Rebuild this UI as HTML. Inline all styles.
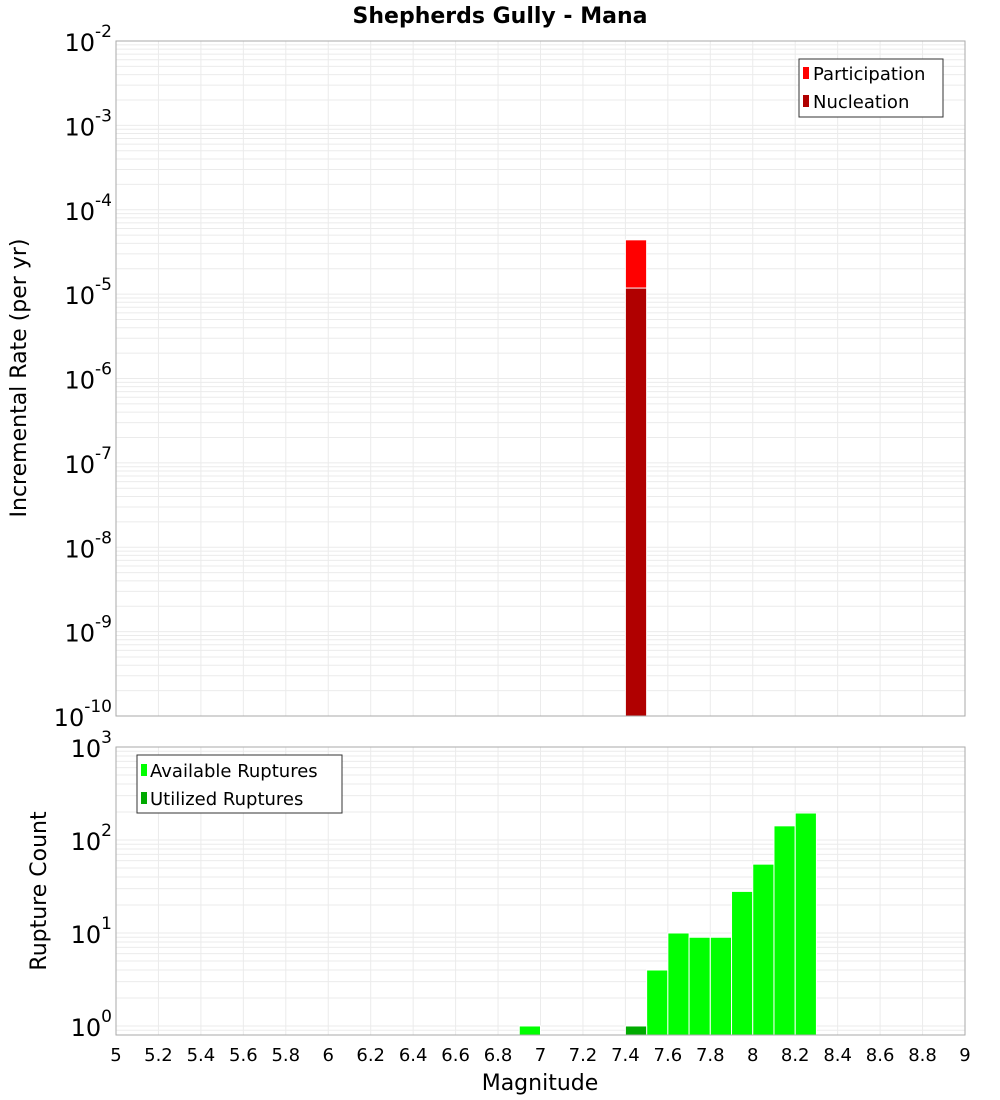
<!DOCTYPE html>
<html><head><meta charset="utf-8"><style>
body{margin:0;background:#fff;}
svg{display:block;font-family:"DejaVu Sans","Liberation Sans",sans-serif;}
</style></head><body>
<svg id="c" width="1000" height="1100" xmlns="http://www.w3.org/2000/svg">
<text x="500" y="23" text-anchor="middle" font-size="22" font-weight="bold">Shepherds Gully - Mana</text>
<g id="top"></g>
<g id="bot"></g>
<text transform="translate(26,378) rotate(-90)" text-anchor="middle" font-size="22">Incremental Rate (per yr)</text>
<text transform="translate(46,891) rotate(-90)" text-anchor="middle" font-size="22">Rupture Count</text>
<text x="540" y="1090" text-anchor="middle" font-size="22">Magnitude</text>
</svg>
<script>
const xTicks=[5,5.2,5.4,5.6,5.8,6,6.2,6.4,6.6,6.8,7,7.2,7.4,7.6,7.8,8,8.2,8.4,8.6,8.8,9];
const rateBins=[7.45];
const participation=[4.4e-5];
const nucleation=[1.18e-5];
const countBins=[6.95,7.45,7.55,7.65,7.75,7.85,7.95,8.05,8.15,8.25];
const available=[1,1,4,10,9,9,28,55,142,195];
const utilBins=[7.45];
const utilized=[1];
const topExp=[-10,-9,-8,-7,-6,-5,-4,-3,-2];
const botExp=[0,1,2,3];

const NS='http://www.w3.org/2000/svg';
const L=116,R=965;
const xs=m=>L+(m-5)/4*(R-L);
function mk(p,t,a){const e=document.createElementNS(NS,t);for(const k in a)e.setAttribute(k,a[k]);p.appendChild(e);return e;}
function panel(g,y0,y1,lmin,lmax){
  const ys=v=>y1-(Math.log10(v)-lmin)/(lmax-lmin)*(y1-y0);
  for(let d=Math.floor(lmin);d<lmax;d++)for(let k=1;k<10;k++){const v=k*Math.pow(10,d);const y=ys(v);if(y<y0-0.5||y>y1+0.5)continue;
    const l=mk(g,'line',{x1:L,x2:R,y1:y,y2:y,stroke:'#ebebeb','stroke-width':1});
    
    }
  xTicks.forEach(t=>{const x=xs(t);const l=mk(g,'line',{x1:x,x2:x,y1:y0,y2:y1,stroke:'#ebebeb','stroke-width':1});
    
    });
  return ys;
}
function bar(g,c,v,ys,y1,fill,name){
  const x0=xs(c-0.05),x1=xs(c+0.05),y=ys(v);
  const r=mk(g,'rect',{x:x0,y:y,width:x1-x0,height:y1-y,fill:fill,stroke:'#fff','stroke-width':1});
  
  
}
function ylabels(g,exps,ys){
  exps.forEach(e=>{const y=ys(Math.pow(10,e));const t=mk(g,'text',{x:112,y:y+10,'text-anchor':'end','font-size':24});
    
    
    t.textContent='10';const s=mk(t,'tspan',{dy:-14,'font-size':17});s.textContent=String(e);});
}
// top panel
const gt=document.getElementById('top');
const T0=41,T1=716;
const yt=panel(gt,T0,T1,-10,-2);
rateBins.forEach((c,i)=>bar(gt,c,participation[i],yt,T1,'#ff0000','participation-bar'));
rateBins.forEach((c,i)=>bar(gt,c,nucleation[i],yt,T1,'#b00000','nucleation-bar'));
mk(gt,'rect',{x:L,y:T0,width:R-L,height:T1-T0,fill:'none',stroke:'#aaa'});
ylabels(gt,topExp,yt);
// bottom panel
const gb=document.getElementById('bot');
const B0=747,B1=1035;
const lmin=Math.log10(0.8);
const yb=panel(gb,B0,B1,lmin,3);
countBins.forEach((c,i)=>bar(gb,c,available[i],yb,B1,'#00ff00','available-bar'));
utilBins.forEach((c,i)=>bar(gb,c,utilized[i],yb,B1,'#00aa00','utilized-bar'));
mk(gb,'rect',{x:L,y:B0,width:R-L,height:B1-B0,fill:'none',stroke:'#aaa'});
ylabels(gb,botExp,yb);
xTicks.forEach(t=>{const tx=mk(gb,'text',{x:xs(t),y:1061,'text-anchor':'middle','font-size':18});
  
  
  tx.textContent=String(t);});
</script>
<svg style="position:absolute;left:0;top:0" width="1000" height="1100" xmlns="http://www.w3.org/2000/svg">
<g>
<rect x="799" y="59" width="144" height="58" fill="#fff" stroke="#333"/>
<rect x="803" y="67" width="6" height="12" fill="#ff0000"/>
<text x="813" y="80" font-size="18">Participation</text>
<rect x="803" y="95" width="6" height="12" fill="#b00000"/>
<text x="813" y="108" font-size="18">Nucleation</text>
</g>
<g>
<rect x="137" y="755" width="205" height="58" fill="#fff" stroke="#333"/>
<rect x="141" y="764" width="6" height="12" fill="#00ff00"/>
<text x="150" y="777" font-size="18">Available Ruptures</text>
<rect x="141" y="792" width="6" height="12" fill="#00aa00"/>
<text x="150" y="805" font-size="18">Utilized Ruptures</text>
</g>
</svg>
</body></html>
